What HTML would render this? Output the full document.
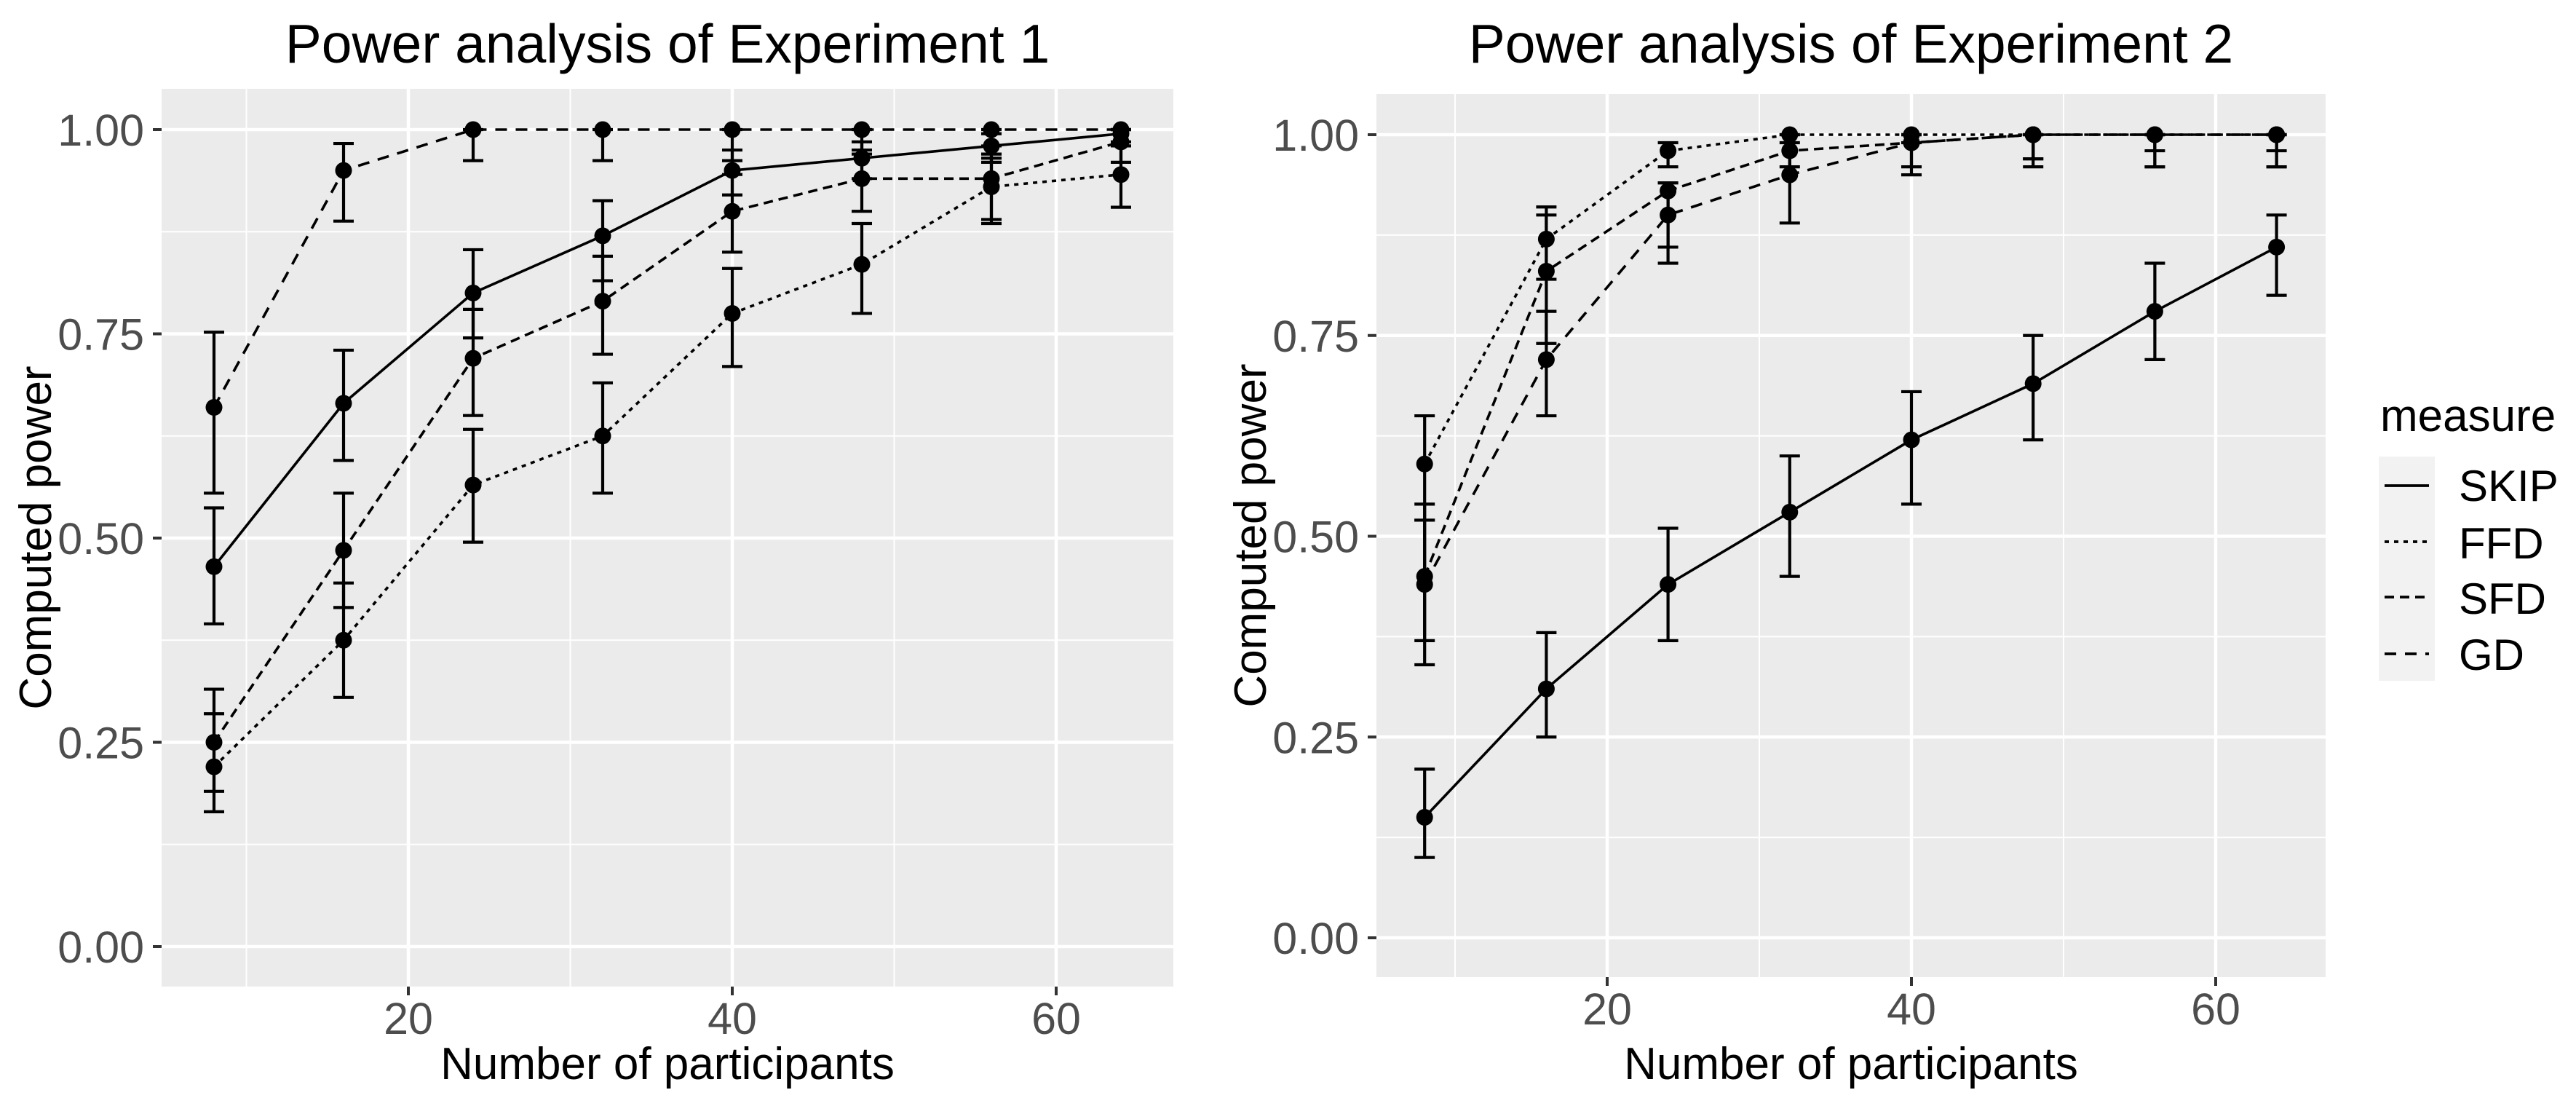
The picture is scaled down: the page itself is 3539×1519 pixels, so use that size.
<!DOCTYPE html>
<html><head><meta charset="utf-8"><style>
html,body{margin:0;padding:0;background:#fff;}
svg{display:block;font-family:"Liberation Sans",sans-serif;}
</style></head><body>
<svg id="chart" width="3539" height="1519" viewBox="0 0 3539 1519" xmlns="http://www.w3.org/2000/svg"></svg>
<script>
const xs = [8,16,24,32,40,48,56,64];
const measures = ["SKIP","FFD","SFD","GD"];
// Experiment 1
const e1_SKIP = [0.465,0.665,0.80,0.87,0.95,0.965,0.98,0.995];
const e1_SKIP_lo = [0.395,0.595,0.745,0.815,0.92,0.94,0.96,0.98];
const e1_SKIP_hi = [0.537,0.73,0.853,0.913,0.975,0.985,0.995,1.0];
const e1_FFD = [0.22,0.375,0.565,0.625,0.775,0.835,0.93,0.945];
const e1_FFD_lo = [0.165,0.305,0.495,0.555,0.71,0.775,0.885,0.905];
const e1_FFD_hi = [0.285,0.445,0.633,0.69,0.83,0.885,0.965,0.98];
const e1_SFD = [0.25,0.485,0.72,0.79,0.90,0.94,0.94,0.985];
const e1_SFD_lo = [0.19,0.415,0.65,0.725,0.85,0.90,0.89,0.96];
const e1_SFD_hi = [0.315,0.555,0.78,0.845,0.945,0.97,0.97,1.0];
const e1_GD = [0.66,0.95,1,1,1,1,1,1];
const e1_GD_lo = [0.555,0.888,0.962,0.962,0.962,0.975,0.98,0.985];
const e1_GD_hi = [0.752,0.983,1,1,1,1,1,1];
// Experiment 2
const e2_SKIP = [0.15,0.31,0.44,0.53,0.62,0.69,0.78,0.86];
const e2_SKIP_lo = [0.10,0.25,0.37,0.45,0.54,0.62,0.72,0.80];
const e2_SKIP_hi = [0.21,0.38,0.51,0.60,0.68,0.75,0.84,0.90];
const e2_FFD = [0.59,0.87,0.98,1,1,1,1,1];
const e2_FFD_lo = [0.52,0.82,0.96,1,0.99,0.97,0.98,0.98];
const e2_FFD_hi = [0.65,0.91,0.99,1,1,1,1,1];
const e2_SFD = [0.45,0.83,0.93,0.98,0.99,1,1,1];
const e2_SFD_lo = [0.37,0.74,0.86,0.96,0.96,0.97,0.96,0.96];
const e2_SFD_hi = [0.54,0.90,0.94,1,1,1,1,1];
const e2_GD = [0.44,0.72,0.90,0.95,0.99,1,1,1];
const e2_GD_lo = [0.34,0.65,0.84,0.89,0.95,0.96,0.96,0.96];
const e2_GD_hi = [0.52,0.78,0.94,0.99,1,1,1,1];
const yTicks = [0,0.25,0.5,0.75,1];
const yTickLabels = ["0.00","0.25","0.50","0.75","1.00"];
const xTicks = [20,40,60];

const NS="http://www.w3.org/2000/svg";
const svg=document.getElementById('chart');
function el(tag,attrs,parent,text){const e=document.createElementNS(NS,tag);for(const k in attrs)e.setAttribute(k,attrs[k]);if(text!==undefined)e.textContent=text;(parent||svg).appendChild(e);return e;}
const dashes={SKIP:"none",FFD:"6 7",SFD:"13 8",GD:"16 12"};

function panel(id,title,L,R,T,B,x20,x40,yTop,y0,data){
  const xs2=(x40-x20)/20;
  const X=v=>x20+(v-20)*xs2;
  const Y=v=>y0+(yTop-y0)*v;
  const g=el('g',{});  
  const bg=el('rect',{x:L,y:T,width:R-L,height:B-T,fill:'#ebebeb'},g);
   
  [0.125,0.375,0.625,0.875].forEach(v=>el('line',{x1:L,x2:R,y1:Y(v),y2:Y(v),stroke:'#fff','stroke-width':2},g));
  [10,30,50].forEach(v=>el('line',{x1:X(v),x2:X(v),y1:T,y2:B,stroke:'#fff','stroke-width':2},g));
  yTicks.forEach((v,i)=>{
    el('line',{x1:L,x2:R,y1:Y(v),y2:Y(v),stroke:'#fff','stroke-width':4.5},g);
    el('line',{x1:L-12,x2:L,y1:Y(v),y2:Y(v),stroke:'#333','stroke-width':4},g);
    const t=el('text',{x:L-24,y:Y(v)+22,'text-anchor':'end','font-size':61,fill:'#4d4d4d'},g,yTickLabels[i]);
     
  });
  xTicks.forEach(v=>{
    el('line',{x1:X(v),x2:X(v),y1:T,y2:B,stroke:'#fff','stroke-width':4.5},g);
    el('line',{x1:X(v),x2:X(v),y1:B,y2:B+12,stroke:'#333','stroke-width':4},g);
    const t=el('text',{x:X(v),y:B+65,'text-anchor':'middle','font-size':61,fill:'#4d4d4d'},g,String(v));
     
  });
  measures.forEach(m=>{
    const d=data[m];
    const sg=el('g',{},g);  
    const pts=xs.map((x,i)=>X(x)+','+Y(d.v[i])).join(' ');
    const pl=el('polyline',{points:pts,fill:'none',stroke:'#000','stroke-width':3.6,'stroke-dasharray':dashes[m]},sg);
     
    xs.forEach((x,i)=>{
      const cx=X(x), w=14;
      el('path',{d:`M${cx-w},${Y(d.hi[i])}H${cx+w}M${cx},${Y(d.hi[i])}V${Y(d.lo[i])}M${cx-w},${Y(d.lo[i])}H${cx+w}`,stroke:'#000','stroke-width':4.2,fill:'none'},sg);
      const c=el('circle',{cx:cx,cy:Y(d.v[i]),r:11.5,fill:'#000'},sg);
       
    });
  });
  const tt=el('text',{x:(L+R)/2,y:86,'text-anchor':'middle','font-size':75,fill:'#000'},g,title);
   
  const xt=el('text',{x:(L+R)/2,y:1482,'text-anchor':'middle','font-size':62,fill:'#000'},g,'Number of participants');
   
  const yx=L-(222-70);
  const yt=el('text',{x:yx,y:(T+B)/2,'text-anchor':'middle','font-size':62,fill:'#000',transform:`rotate(-90 ${yx} ${(T+B)/2})`},g,'Computed power');
   
}
panel('panel-experiment-1','Power analysis of Experiment 1',222,1612,122,1355,561,1006,178,1300,{
  SKIP:{v:e1_SKIP,lo:e1_SKIP_lo,hi:e1_SKIP_hi},FFD:{v:e1_FFD,lo:e1_FFD_lo,hi:e1_FFD_hi},
  SFD:{v:e1_SFD,lo:e1_SFD_lo,hi:e1_SFD_hi},GD:{v:e1_GD,lo:e1_GD_lo,hi:e1_GD_hi}});
panel('panel-experiment-2','Power analysis of Experiment 2',1891,3195,129,1342,2208,2626,185,1288,{
  SKIP:{v:e2_SKIP,lo:e2_SKIP_lo,hi:e2_SKIP_hi},FFD:{v:e2_FFD,lo:e2_FFD_lo,hi:e2_FFD_hi},
  SFD:{v:e2_SFD,lo:e2_SFD_lo,hi:e2_SFD_hi},GD:{v:e2_GD,lo:e2_GD_lo,hi:e2_GD_hi}});

// legend
const lg=el('g',{});  
const lt=el('text',{x:3270,y:592,'font-size':62,fill:'#000'},lg,'measure');
 
el('rect',{x:3268,y:627,width:77,height:308,fill:'#f2f2f2'},lg);
const keyY=[667,744,820,898], labY=[688,767,843,920];
measures.forEach((m,i)=>{
  const eg=el('g',{},lg);  
  el('line',{x1:3276,x2:3337,y1:keyY[i],y2:keyY[i],stroke:'#000','stroke-width':3.8,'stroke-dasharray':dashes[m]},eg);
  el('text',{x:3378,y:labY[i],'font-size':60,fill:'#000'},eg,m);
});
</script>
</body></html>
